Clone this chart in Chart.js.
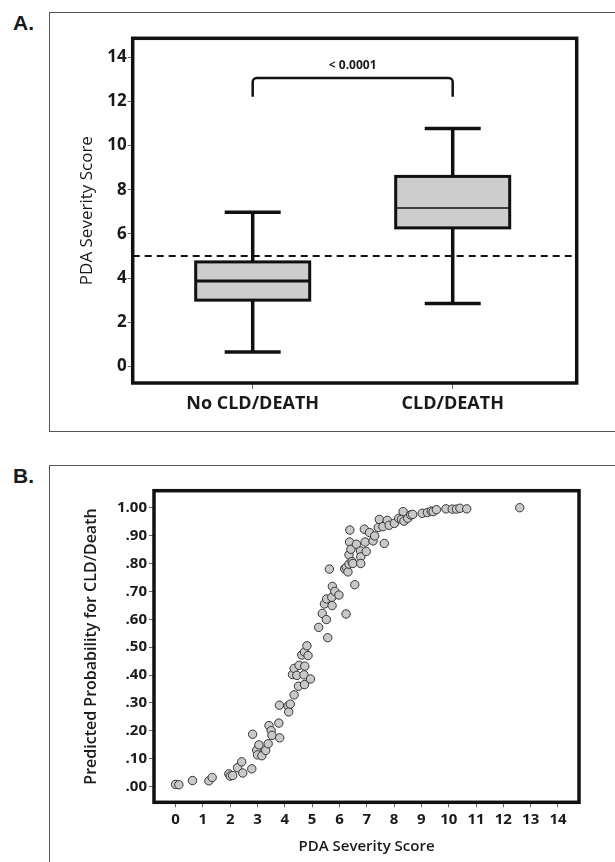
<!DOCTYPE html>
<html>
<head>
<meta charset="utf-8">
<script src="https://cdn.jsdelivr.net/npm/chart.js@4.4.0/dist/chart.umd.min.js"></script>
<style>
  html, body { margin: 0; padding: 0; background: #fff; width: 615px; height: 862px; overflow: hidden; }
  .panel { position: absolute; border: 1px solid #555; }
  .tag { position: absolute; font: bold 21px "Liberation Sans", Arial, sans-serif; line-height: 21px; color: #1a1a1a; }
  canvas { position: absolute; }
</style>
</head>
<body>
<div class="panel" style="left:49px; top:12px; width:700px; height:418px;"></div>
<div class="tag" style="left:13px; top:12px;">A.</div>
<canvas id="chartA" width="565" height="417" style="left:50px; top:14px;"></canvas>

<div class="panel" style="left:49px; top:465px; width:700px; height:500px;"></div>
<div class="tag" style="left:13px; top:465px;">B.</div>
<canvas id="chartB" width="565" height="396" style="left:50px; top:466px;"></canvas>

<script>
// box plot summary per outcome group
const groups = ['No CLD/DEATH', 'CLD/DEATH'];
const whiskerLow = [0.65, 2.85];
const quartile1 = [3.0, 6.27];
const medians = [3.87, 7.17];
const quartile3 = [4.73, 8.6];
const whiskerHigh = [6.98, 10.77];
const cutoffScore = 5;
const pValueText = '< 0.0001';
const scoreTicks = [0, 2, 4, 6, 8, 10, 12, 14];

// predicted probability vs severity score
const scoreX = [0.0, 0.12, 0.62, 1.22, 1.34, 1.95, 2.0, 2.09, 2.27, 2.42,
  2.46, 2.79, 2.82, 2.97, 3.0, 3.05, 3.16, 3.30, 3.39, 3.42,
  3.50, 3.53, 3.78, 3.81, 3.80, 4.12, 4.14, 4.20, 4.34, 4.28,
  4.34, 4.44, 4.52, 4.50, 4.72, 4.70, 4.73, 4.62, 4.72, 4.81,
  4.85, 4.94, 5.24, 5.37, 5.52, 5.57, 5.45, 5.53, 5.63, 5.72,
  5.73, 5.74, 5.83, 5.98, 6.24, 6.19, 6.25, 6.31, 6.35, 6.38,
  6.37, 6.35, 6.42, 6.46, 6.49, 6.56, 6.62, 6.77, 6.78, 6.78,
  6.91, 6.94, 6.98, 7.10, 7.23, 7.29, 7.42, 7.46, 7.64, 7.59,
  7.75, 7.82, 8.01, 8.17, 8.33, 8.27, 8.36, 8.50, 8.61, 8.68,
  9.03, 9.22, 9.36, 9.43, 9.55, 9.90, 10.13, 10.28, 10.41, 10.66,
  12.6];
const probY = [0.008, 0.007, 0.022, 0.021, 0.033, 0.046, 0.038, 0.040, 0.068, 0.089,
  0.049, 0.064, 0.188, 0.131, 0.114, 0.150, 0.111, 0.130, 0.154, 0.219,
  0.201, 0.184, 0.228, 0.175, 0.292, 0.289, 0.268, 0.296, 0.329, 0.402,
  0.424, 0.399, 0.435, 0.360, 0.366, 0.401, 0.432, 0.472, 0.483, 0.505,
  0.470, 0.386, 0.571, 0.621, 0.599, 0.534, 0.655, 0.673, 0.780, 0.679,
  0.649, 0.718, 0.700, 0.687, 0.619, 0.781, 0.786, 0.770, 0.798, 0.920,
  0.877, 0.831, 0.851, 0.807, 0.800, 0.724, 0.869, 0.845, 0.824, 0.800,
  0.923, 0.877, 0.843, 0.911, 0.881, 0.899, 0.929, 0.958, 0.872, 0.932,
  0.955, 0.937, 0.944, 0.962, 0.986, 0.958, 0.952, 0.962, 0.974, 0.976,
  0.980, 0.983, 0.988, 0.986, 0.993, 0.996, 0.995, 0.995, 0.998, 0.996,
  1.0];
const probTicks = [0, 0.1, 0.2, 0.3, 0.4, 0.5, 0.6, 0.7, 0.8, 0.9, 1.0];
const probLabels = ['.00', '.10', '.20', '.30', '.40', '.50', '.60', '.70', '.80', '.90', '1.00'];
const xScoreTicks = [0, 1, 2, 3, 4, 5, 6, 7, 8, 9, 10, 11, 12, 13, 14];

Chart.defaults.font.family = "'Open Sans', sans-serif";
Chart.defaults.color = '#1a1a1a';
Chart.defaults.animation = false;

const ink = '#111';

// thick frame round the plotting area
const framePlugin = {
  id: 'frame',
  afterDraw(chart) {
    const {ctx, chartArea: a} = chart;
    ctx.save();
    ctx.lineWidth = 3.5;
    ctx.strokeStyle = ink;
    ctx.strokeRect(a.left, a.top, a.right - a.left, a.bottom - a.top);
    ctx.restore();
  }
};

// boxes, whiskers, cut-off line and significance bracket
const boxPlotPlugin = {
  id: 'boxPlot',
  afterDatasetsDraw(chart) {
    const {ctx, chartArea: a, scales: {x, y}} = chart;
    ctx.save();
    ctx.strokeStyle = ink;

    const yCut = y.getPixelForValue(cutoffScore);
    ctx.setLineDash([7, 5]);
    ctx.lineWidth = 2;
    ctx.beginPath();
    ctx.moveTo(a.left, yCut);
    ctx.lineTo(a.right, yCut);
    ctx.stroke();
    ctx.setLineDash([]);

    const medianWidths = [3, 1.5];
    groups.forEach((g, i) => {
      const cx = x.getPixelForValue(i);
      const half = x.getPixelForValue(i + 0.285) - cx;
      const cap = x.getPixelForValue(i + 0.14) - cx;
      const yLo = y.getPixelForValue(whiskerLow[i]);
      const yQ1 = y.getPixelForValue(quartile1[i]);
      const yMed = y.getPixelForValue(medians[i]);
      const yQ3 = y.getPixelForValue(quartile3[i]);
      const yHi = y.getPixelForValue(whiskerHigh[i]);

      ctx.lineWidth = 3.5;
      ctx.beginPath();
      ctx.moveTo(cx, yLo); ctx.lineTo(cx, yQ1);
      ctx.moveTo(cx, yQ3); ctx.lineTo(cx, yHi);
      ctx.moveTo(cx - cap, yLo); ctx.lineTo(cx + cap, yLo);
      ctx.moveTo(cx - cap, yHi); ctx.lineTo(cx + cap, yHi);
      ctx.stroke();

      ctx.fillStyle = '#cdcdcd';
      ctx.fillRect(cx - half, yQ3, half * 2, yQ1 - yQ3);
      ctx.lineWidth = 3;
      ctx.strokeRect(cx - half, yQ3, half * 2, yQ1 - yQ3);

      ctx.lineWidth = medianWidths[i];
      ctx.beginPath();
      ctx.moveTo(cx - half, yMed);
      ctx.lineTo(cx + half, yMed);
      ctx.stroke();
    });

    // bracket between the two groups
    const bx0 = x.getPixelForValue(0);
    const bx1 = x.getPixelForValue(1);
    const bTop = y.getPixelForValue(13.05);
    const bEnd = y.getPixelForValue(12.2);
    const r = 4;
    ctx.lineWidth = 2.5;
    ctx.beginPath();
    ctx.moveTo(bx0, bEnd);
    ctx.arcTo(bx0, bTop, bx0 + r, bTop, r);
    ctx.arcTo(bx1, bTop, bx1, bTop + r, r);
    ctx.lineTo(bx1, bEnd);
    ctx.stroke();

    ctx.fillStyle = '#1a1a1a';
    ctx.font = "bold 12px 'Open Sans', sans-serif";
    ctx.textAlign = 'center';
    ctx.textBaseline = 'middle';
    ctx.fillText(pValueText, (bx0 + bx1) / 2, y.getPixelForValue(13.62));
    ctx.restore();
  }
};

new Chart('chartA', {
  type: 'scatter',
  data: { datasets: [] },
  options: {
    responsive: false,
    layout: { padding: { top: 24.3, right: 38.3, left: 0, bottom: 0 } },
    plugins: { legend: { display: false }, tooltip: { enabled: false } },
    scales: {
      x: {
        type: 'linear',
        min: -0.6,
        max: 1.62,
        afterBuildTicks: s => { s.ticks = groups.map((g, i) => ({ value: i })); },
        afterFit: s => { s.height = 48; },
        ticks: { callback: v => groups[v], font: { size: 18, weight: 'bold' }, padding: 4.5, maxRotation: 0 },
        grid: { drawOnChartArea: false, tickLength: 6, color: '#666', lineWidth: 1 },
        border: { display: false }
      },
      y: {
        min: -0.75,
        max: 14.85,
        afterBuildTicks: s => { s.ticks = scoreTicks.map(v => ({ value: v })); },
        afterFit: s => { s.width = 82.7; },
        ticks: { font: { size: 17, weight: 'bold' }, padding: 1 },
        grid: { drawOnChartArea: false, tickLength: 5, color: '#666', lineWidth: 1 },
        border: { display: false },
        title: { display: true, text: 'PDA Severity Score', font: { size: 17 }, padding: { top: 26.5, bottom: 0 } }
      }
    }
  },
  plugins: [boxPlotPlugin, framePlugin]
});

new Chart('chartB', {
  type: 'scatter',
  data: {
    datasets: [{
      data: scoreX.map((s, i) => ({ x: s, y: probY[i] })),
      pointRadius: 4.2,
      borderWidth: 1,
      backgroundColor: '#c9c9c9',
      borderColor: '#333'
    }]
  },
  options: {
    responsive: false,
    layout: { padding: { top: 24.7, right: 36, left: 0, bottom: 0 } },
    plugins: { legend: { display: false }, tooltip: { enabled: false } },
    scales: {
      x: {
        min: -0.79,
        max: 14.77,
        afterBuildTicks: s => { s.ticks = xScoreTicks.map(v => ({ value: v })); },
        afterFit: s => { s.height = 59.7; },
        ticks: { font: { size: 15, weight: 'bold' }, padding: 3.7, maxRotation: 0 },
        grid: { drawOnChartArea: false, tickLength: 5, color: '#666', lineWidth: 1 },
        border: { display: false },
        title: { display: true, text: 'PDA Severity Score', font: { size: 15, weight: '600' }, padding: { top: 0, bottom: 6.3 } }
      },
      y: {
        min: -0.056,
        max: 1.061,
        afterBuildTicks: s => { s.ticks = probTicks.map(v => ({ value: v })); },
        afterFit: s => { s.width = 104; },
        ticks: { callback: (v, i) => probLabels[i], font: { size: 15, weight: 'bold' }, padding: 2 },
        grid: { drawOnChartArea: false, tickLength: 5, color: '#666', lineWidth: 1 },
        border: { display: false },
        title: { display: true, text: 'Predicted Probability for CLD/Death', font: { size: 16, weight: '600' }, padding: { top: 32.1, bottom: 0 } }
      }
    }
  },
  plugins: [framePlugin]
});
</script>
</body>
</html>
